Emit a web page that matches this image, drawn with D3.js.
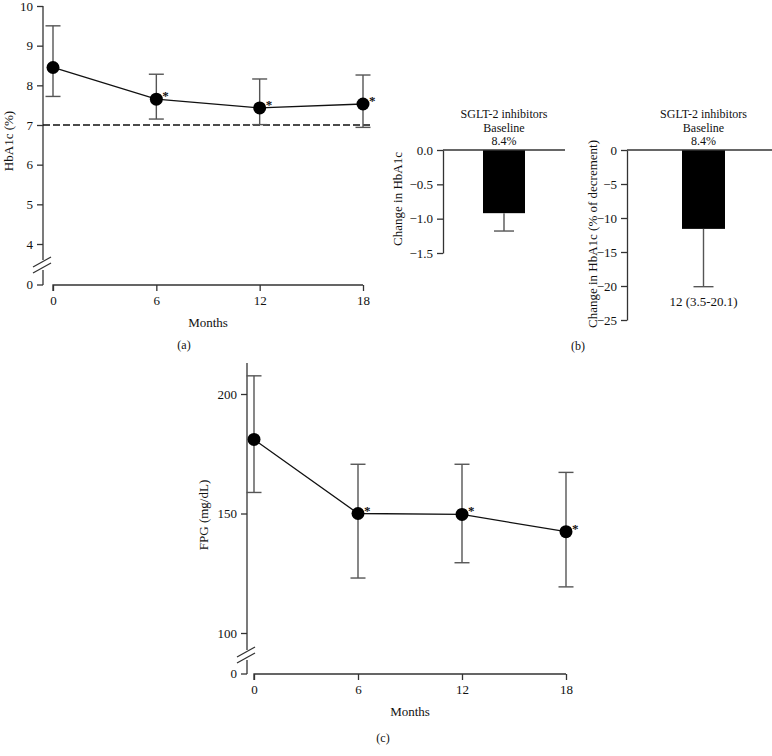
<!DOCTYPE html>
<html><head><meta charset="utf-8">
<script src="https://cdn.jsdelivr.net/npm/d3@7/dist/d3.min.js"></script>
<style>
body{margin:0;background:#fff;}
svg{display:block;font-family:"Liberation Serif","DejaVu Serif",serif;}
text{fill:#111;}
</style></head>
<body><svg id="c" width="772" height="756"></svg>
<script>
// ---- data ----
const months = [0, 6, 12, 18];
const hba1cMean  = [8.45, 7.65, 7.43, 7.53];
const hba1cUpper = [9.5, 8.28, 8.16, 8.26];
const hba1cLower = [7.72, 7.15, 7.01, 6.94];
const hba1cSig   = [false, true, true, true];
const hba1cTarget = 7;
const hba1cTicks = [4, 5, 6, 7, 8, 9, 10];

const barCategory = ["SGLT-2 inhibitors"];
const barTitle = ["SGLT-2 inhibitors", "Baseline", "8.4%"];
const changeAbs = [-0.92];
const changeAbsErr = [-1.18];
const changeAbsTicks = [0, -0.5, -1.0, -1.5];
const changePct = [-11.6];
const changePctErr = [-20.1];
const changePctTicks = [0, -5, -10, -15, -20, -25];
const changePctLabel = "12 (3.5-20.1)";

const fpgMean  = [181, 150, 149.6, 142.4];
const fpgUpper = [207.6, 170.6, 170.6, 167.2];
const fpgLower = [158.8, 123, 129.4, 119.3];
const fpgSig   = [false, true, true, true];
const fpgTicks = [100, 150, 200];

const svg = d3.select("#c");
const AX = "#333", ERR = "#555", FS = 13;

function styleAxis(g){
  g.selectAll("path").attr("stroke", AX).attr("stroke-width", 1.3);
  g.selectAll("line").attr("stroke", AX).attr("stroke-width", 1.3);
  g.selectAll("text").attr("font-size", FS).attr("fill", "#111")
    .style("font-family", '"Liberation Serif","DejaVu Serif",serif');
}

// ---------- line panel builder ----------
function linePanel(o){
  const x = d3.scaleLinear().domain([0, 18]).range(o.xr);
  const y = d3.scaleLinear().domain(o.yd).range(o.yr);
  const g = svg.append("g");
  const ya = g.append("g").attr("transform", `translate(${o.ax},0)`)
    .call(d3.axisLeft(y).tickValues(o.ticks).tickFormat(d3.format("d"))
      .tickSize(6).tickPadding(4).tickSizeOuter(0));
  ya.select("path").attr("d", `M0,${o.yTop}V${o.breakTop}`);
  styleAxis(ya);
  const z = g.append("g").attr("transform", `translate(${o.ax},0)`);
  z.append("line").attr("x1", 0).attr("x2", 0).attr("y1", o.breakBot).attr("y2", o.zeroY)
    .attr("stroke", AX).attr("stroke-width", 1.3);
  z.append("line").attr("x1", -6).attr("x2", 0).attr("y1", o.zeroY).attr("y2", o.zeroY)
    .attr("stroke", AX).attr("stroke-width", 1.3);
  z.append("text").attr("x", -10).attr("y", o.zeroY).attr("dy", "0.32em")
    .attr("text-anchor", "end").attr("font-size", FS).text("0");
  const bm = o.breakMid;
  [-3, 3].forEach(d => {
    g.append("line").attr("x1", o.ax - 10).attr("y1", bm + 5 + d)
      .attr("x2", o.ax + 8).attr("y2", bm - 5 + d)
      .attr("stroke", AX).attr("stroke-width", 1.3);
  });
  const xa = g.append("g").attr("transform", `translate(0,${o.zeroY})`)
    .call(d3.axisBottom(x).tickValues(months).tickSize(6).tickPadding(5).tickSizeOuter(0));
  xa.select("path").attr("d", `M${o.xr[0]},6V0H${o.xr[1]}`);
  styleAxis(xa);
  g.append("text").attr("x", (o.xr[0] + o.xr[1]) / 2).attr("y", o.zeroY + 42)
    .attr("text-anchor", "middle").attr("font-size", FS).text("Months");
  g.append("text").attr("transform", `translate(${o.ylx},${o.yly}) rotate(-90)`)
    .attr("text-anchor", "middle").attr("font-size", FS).text(o.ylabel);
  if (o.target !== undefined){
    g.append("line").attr("x1", o.ax).attr("x2", o.xr[1] + 10)
      .attr("y1", y(o.target)).attr("y2", y(o.target))
      .attr("stroke", "#111").attr("stroke-width", 1.3).attr("stroke-dasharray", "7,3");
  }
  months.forEach((m, i) => {
    const cx = x(m);
    g.append("line").attr("x1", cx).attr("x2", cx).attr("y1", y(o.up[i])).attr("y2", y(o.lo[i]))
      .attr("stroke", ERR).attr("stroke-width", 1.4);
    [o.up[i], o.lo[i]].forEach(v => g.append("line").attr("x1", cx - 7.5).attr("x2", cx + 7.5)
      .attr("y1", y(v)).attr("y2", y(v)).attr("stroke", ERR).attr("stroke-width", 1.4));
  });
  g.append("path").datum(months.map((m, i) => [x(m), y(o.mean[i])]))
    .attr("d", d3.line()).attr("fill", "none").attr("stroke", "#111").attr("stroke-width", 1.3);
  months.forEach((m, i) => {
    g.append("circle").attr("cx", x(m)).attr("cy", y(o.mean[i])).attr("r", 6.5).attr("fill", "#000");
    if (o.sig[i]) g.append("text").attr("x", x(m) + 6).attr("y", y(o.mean[i]) + 1)
      .attr("font-size", 13).attr("font-weight", "bold").attr("fill", "#000").text("*");
  });
  g.append("text").attr("x", o.tag[0]).attr("y", o.tag[1]).attr("dy", "0.32em")
    .attr("text-anchor", "middle").attr("font-size", 12).text(o.tag[2]);
}

linePanel({
  xr: [53, 363], yd: [4, 10], yr: [244, 6], ax: 43, ticks: hba1cTicks,
  yTop: 6, breakTop: 260, breakBot: 270, breakMid: 265, zeroY: 285,
  mean: hba1cMean, up: hba1cUpper, lo: hba1cLower, sig: hba1cSig, target: hba1cTarget,
  ylabel: "HbA1c (%)", ylx: 13, yly: 141, tag: [184, 345, "(a)"]
});

linePanel({
  xr: [254, 566], yd: [100, 200], yr: [633, 394], ax: 247, ticks: fpgTicks,
  yTop: 363, breakTop: 650, breakBot: 660, breakMid: 655, zeroY: 674,
  mean: fpgMean, up: fpgUpper, lo: fpgLower, sig: fpgSig,
  ylabel: "FPG (mg/dL)", ylx: 208, yly: 515, tag: [383, 738, "(c)"]
});

// ---------- bar panels ----------
function barPanel(o){
  const x = d3.scaleBand().domain(barCategory).range(o.xr).paddingInner(0).paddingOuter(o.po);
  const y = d3.scaleLinear().domain(o.yd).range([253 + o.extra, 150]);
  const g = svg.append("g");
  const c = barCategory[0];
  g.append("rect").attr("x", x(c)).attr("width", x.bandwidth())
    .attr("y", y(0)).attr("height", y(o.val[0]) - y(0)).attr("fill", "#000");
  const cx = x(c) + x.bandwidth() / 2;
  g.append("line").attr("x1", cx).attr("x2", cx).attr("y1", y(o.val[0])).attr("y2", y(o.err[0]))
    .attr("stroke", ERR).attr("stroke-width", 1.4);
  g.append("line").attr("x1", cx - 10).attr("x2", cx + 10).attr("y1", y(o.err[0])).attr("y2", y(o.err[0]))
    .attr("stroke", ERR).attr("stroke-width", 1.4);
  const ya = g.append("g").attr("transform", `translate(${o.xr[0]},0)`)
    .call(d3.axisLeft(y).tickValues(o.ticks).tickFormat(o.fmt).tickSize(6).tickPadding(4).tickSizeOuter(0));
  styleAxis(ya);
  g.append("line").attr("x1", o.xr[0]).attr("x2", o.hEnd).attr("y1", y(0)).attr("y2", y(0))
    .attr("stroke", AX).attr("stroke-width", 1.3);
  barTitle.forEach((t, i) => g.append("text").attr("x", cx).attr("y", 118 + i * 13.5)
    .attr("text-anchor", "middle").attr("font-size", 12).text(t));
  g.append("text").attr("transform", `translate(${o.ylx},${o.yly}) rotate(-90)`)
    .attr("text-anchor", "middle").attr("font-size", FS).text(o.ylabel);
  if (o.label) g.append("text").attr("x", cx).attr("y", y(o.err[0]) + 15).attr("dy", "0.32em")
    .attr("text-anchor", "middle").attr("font-size", 13).text(o.label);
}

barPanel({
  xr: [443, 565], po: 0.952, yd: [-1.5, 0], extra: 0, hEnd: 565,
  val: changeAbs, err: changeAbsErr, ticks: changeAbsTicks, fmt: d3.format(".1f"),
  ylabel: "Change in HbA1c", ylx: 402, yly: 199
});
barPanel({
  xr: [627, 780], po: 1.279, yd: [-25, 0], extra: 67, hEnd: 772,
  val: changePct, err: changePctErr, ticks: changePctTicks, fmt: d3.format("d"),
  ylabel: "Change in HbA1c (% of decrement)", ylx: 597, yly: 234, label: changePctLabel
});
svg.append("text").attr("x", 578).attr("y", 346).attr("dy", "0.32em")
  .attr("text-anchor", "middle").attr("font-size", 12).text("(b)");
</script></body></html>
